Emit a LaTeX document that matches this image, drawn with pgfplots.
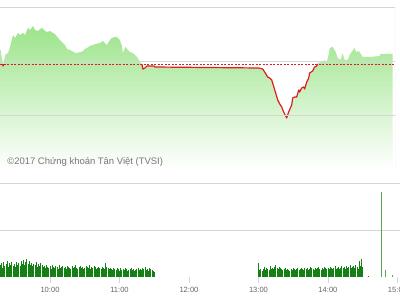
\documentclass[border=0pt]{standalone}
\usepackage{pgfplots}
\pgfplotsset{compat=1.18}
\usepackage{fontspec}
\setmainfont{Liberation Sans}
\definecolor{areagreen}{RGB}{156,228,138}
\definecolor{linered}{RGB}{222,30,30}
\definecolor{gridgray}{RGB}{214,214,214}
\definecolor{axisblue}{RGB}{204,214,235}
\definecolor{volgreen}{RGB}{22,128,22}
\definecolor{spikegreen}{RGB}{80,170,80}
\definecolor{labelgray}{RGB}{102,102,102}
\definecolor{wmgray}{RGB}{120,120,120}
\begin{document}
\begin{tikzpicture}
% ---------------- price chart ----------------
\begin{axis}[
  at={(0bp,131bp)}, anchor=south west,
  scale only axis, width=395bp, height=162bp,
  xmin=16.83, xmax=357.8, ymin=0, ymax=162,
  axis line style={draw=none},
  xtick=\empty, ytick={54,107.5}, yticklabels={},
  major tick length=0pt,
  ymajorgrids, grid style={gridgray, line width=0.8bp},
  axis on top,
]
\addplot[draw=none, top color=areagreen, bottom color=white] coordinates {
(16.83,120) (17.5,118) (19.5,103) (21.2,114) (23.8,116) (25.5,122) (28.1,134) (29.8,131)
(32.4,136) (34.1,134) (36.7,136) (38.4,134) (41.0,141) (42.8,139) (45.3,143) (47.1,139)
(49.7,138) (51.4,140) (53.1,141) (55.7,138) (57.4,137) (60,138) (62.6,136) (64.3,135)
(66.9,131) (68.6,129) (71.2,126) (72.9,124) (74.7,120) (77.2,119) (79,118) (81.6,116)
(83.3,116) (85.9,117) (87.6,117) (90.2,120) (91.9,121) (94.5,123) (97.1,124) (99.7,125)
(103.1,126) (105.7,128) (107.4,126) (109.1,124) (111.7,129) (113.4,131) (116,132) (117.8,132)
(119.5,130) (120.3,129) (122.1,123) (122.9,116) (124.7,121) (125.5,122) (127.2,119) (128.9,117)
(131.6,116) (133.3,114) (135.9,111) (137.6,107) (139.3,105) (140.2,100) (141.9,101) (143.6,103)
(146.2,103) (149.7,103) (150.5,102) (240.2,101) (243.6,100) (245.3,97) (247.9,92) (249.7,91)
(251.4,89) (254,79) (256.6,69) (258.3,65) (260,62) (261.7,57) (264.3,51) (266,57)
(268.6,64) (269.5,71) (271.2,72) (272.9,72) (274.7,79) (275.5,77) (277.2,81) (279,82)
(279.8,80) (281.6,87) (283.3,91) (284.1,96) (286.7,98) (288.4,102) (290.2,103) (290.8,105)
(291,106) (294.5,107) (297.1,109) (298.8,107) (300.5,114) (301.4,121) (304,122) (306.6,117)
(308.3,111) (310,110) (310.9,109) (312.6,116) (314.3,109) (316.9,109) (318.6,114) (320.3,117)
(322.9,121) (324.7,116) (325.5,118) (327.2,117) (329.8,112) (335.9,112) (344.5,113) (345.3,115)
(355.7,115)
} \closedcycle;
% reference line
\addplot[linered, line width=0.9bp, dash pattern=on 2bp off 1.5bp] coordinates {(16.83,105) (357.8,105)};
% price below reference
\addplot[linered, line width=1.2bp, line join=round] coordinates {(19.0,105) (19.5,103) (20.0,105)};
\addplot[linered, line width=1.2bp, line join=round] coordinates {
(139.3,105) (140.2,100) (141.9,101) (143.6,103) (146.2,103) (149.7,103) (150.5,102) (240.2,101)
(243.6,100) (245.3,97) (247.9,92) (249.7,91) (251.4,89) (254,79) (256.6,69) (258.3,65)
(260,62) (261.7,57) (264.3,51) (266,57) (268.6,64) (269.5,71) (271.2,72) (272.9,72)
(274.7,79) (275.5,77) (277.2,81) (279,82) (279.8,80) (281.6,87) (283.3,91) (284.1,96)
(286.7,98) (288.4,102) (290.2,103) (290.8,105)
};
\draw[gridgray, line width=0.8bp] (rel axis cs:0,1) -- (rel axis cs:1,1) -- (rel axis cs:1,0) -- (rel axis cs:0,0);
\node[anchor=base west, font=\fontsize{9.5}{11}\selectfont, text=wmgray, inner sep=0pt]
  at (rel axis cs:0.018,0.025) {©2017 Chứng khoán Tân Việt (TVSI)};
\end{axis}
% ---------------- volume chart ----------------
\begin{axis}[
  at={(0bp,23bp)}, anchor=south west,
  scale only axis, width=400bp, height=94bp,
  xmin=16.83, xmax=362.2, ymin=0, ymax=94,
  axis line style={draw=none},
  ytick={47}, yticklabels={}, ymajorgrids, grid style={gridgray, line width=0.8bp},
  xtick={60,120,180,240,300,360},
  xticklabels={10:00,11:00,12:00,13:00,14:00,15:00},
  xtick pos=bottom, tick align=outside,
  x tick style={axisblue, line width=0.8bp}, y tick style={draw=none},
  major tick length=6bp,
  xticklabel style={font=\fontsize{7.6}{9}\selectfont, text=labelgray, yshift=-1bp},
  clip=true,
]
\draw[gridgray, line width=0.8bp] (rel axis cs:0,1) -- (rel axis cs:1,1);
\addplot[ycomb, volgreen, line width=0.75bp, mark=none] coordinates {
(17,12) (18,14) (19,9) (20,15) (21,11) (22,13) (23,16) (24,10) (25,14) (26,12) (27,15) (28,11)
(29,13) (30,10) (31,15) (32,12) (33,14) (34,11)
(35,16) (36,13) (37,17) (38,12) (39,15) (40,18) (41,13) (42,16) (43,12)
(44,14) (45,11) (46,13) (47,12) (48,15) (49,10) (50,13) (51,11) (52,14) (53,12) (54,10)
(55,11) (56,9) (57,12) (58,10) (59,9) (60,11) (61,8) (62,12) (63,10) (64,9) (65,11) (66,10)
(67,8) (68,12) (69,9) (70,10) (71,11) (72,9) (73,10) (74,8) (75,11)
(76,10) (77,9) (78,8) (79,11) (80,9) (81,10) (82,12) (83,9) (84,8) (85,10) (86,11) (87,9)
(88,10) (89,8) (90,9) (91,11) (92,10) (93,9) (94,12) (95,8) (96,10) (97,9) (98,11) (99,10)
(100,8) (101,9) (102,10) (103,9)
(104,8) (105,10) (106,9) (107,8) (108,14) (109,10) (110,9) (111,8)
(112,9) (113,8) (114,7) (115,9) (116,8) (117,7) (118,9) (119,8) (120,6) (121,9) (122,7) (123,8)
(124,7) (125,9) (126,8) (127,6) (128,7) (129,8) (130,9) (131,7) (132,8) (133,6) (134,7) (135,8)
(136,9) (137,7) (138,8) (139,7) (140,9) (141,8) (142,10) (143,7) (144,8) (145,6) (146,9) (147,8)
(148,7) (149,6) (150,5)
(240,14) (241,7) (242,8) (243,6) (244,8) (245,10) (246,7) (247,9) (248,8) (249,7) (250,11)
(251,8) (252,9) (253,8) (254,10) (255,12) (256,9) (257,8) (258,10) (259,9) (260,8)
(261,7) (262,8) (263,9) (264,7) (265,8) (266,7) (267,6) (268,8) (269,7) (270,9) (271,8) (272,7)
(273,8) (274,9) (275,7) (276,8) (277,9) (278,8) (279,7) (280,9)
(281,8) (282,9) (283,7) (284,8) (285,10) (286,9) (287,8) (288,7) (289,9) (290,8) (291,9) (292,10)
(293,8) (294,7) (295,9) (296,8) (297,10) (298,9) (299,8) (300,9)
(301,8) (302,10) (303,9) (304,8) (305,9) (306,11) (307,8) (308,9) (309,10) (310,8) (311,9) (312,11)
(313,9) (314,10) (315,8) (316,11) (317,9) (318,10) (319,12) (320,9)
(321,10) (322,11) (323,9) (324,12) (325,10) (326,8) (327,16) (328,11) (329,18) (330,10)
(335,1.5)
};
\addplot[ycomb, spikegreen, line width=1bp, mark=none] coordinates {(346.5,85) (349.5,7) (355.5,2)};
\draw[axisblue, line width=0.8bp] (rel axis cs:0,0) -- (rel axis cs:1,0);
\end{axis}
\pgfresetboundingbox
\useasboundingbox (0,0) rectangle (400bp,300bp);
\end{tikzpicture}
\end{document}
